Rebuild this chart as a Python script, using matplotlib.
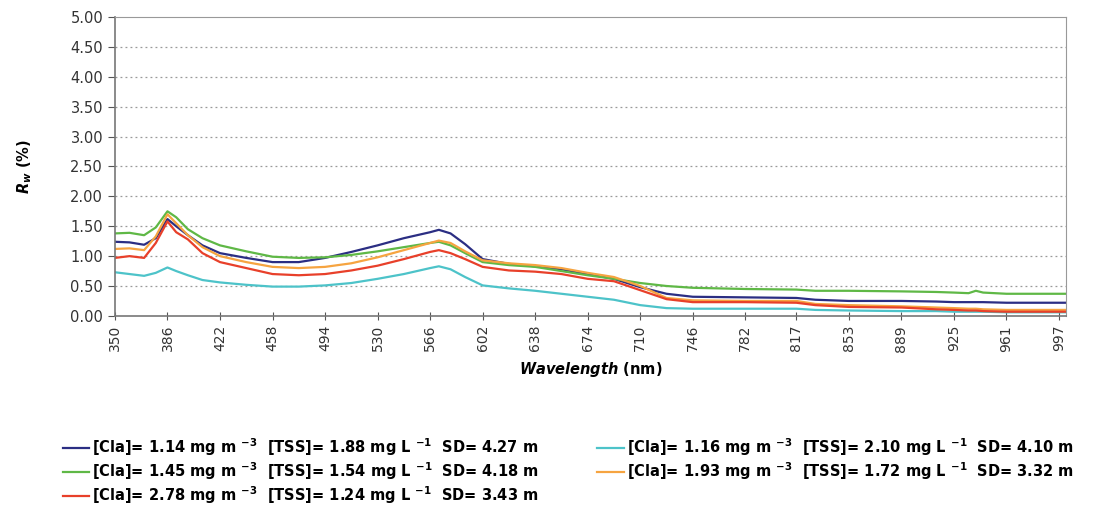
import numpy as np
import matplotlib
matplotlib.use('Agg')
import matplotlib.pyplot as plt

plt.rcParams['font.family'] = ['DejaVu Sans']
plt.rcParams['mathtext.fontset'] = 'custom'
plt.rcParams['mathtext.rm'] = 'DejaVu Sans:bold'
plt.rcParams['mathtext.it'] = 'DejaVu Sans:italic:bold'
plt.rcParams['mathtext.bf'] = 'DejaVu Sans:bold'

# wavelength nodes (nm)
wl = [350, 360, 370, 378, 386, 392, 400, 410, 422, 440, 458, 476, 494, 512,
      530, 548, 566, 572, 580, 590, 602, 620, 638, 656, 674, 692, 710, 728,
      746, 782, 817, 830, 853, 889, 913, 925, 935, 940, 945, 961, 1002]

rw_navy = [1.24, 1.23, 1.19, 1.30, 1.62, 1.50, 1.35, 1.18, 1.05, 0.97, 0.90, 0.90,
           0.97, 1.07, 1.18, 1.30, 1.40, 1.44, 1.38, 1.20, 0.95, 0.87, 0.83, 0.78,
           0.70, 0.62, 0.48, 0.37, 0.32, 0.31, 0.30, 0.27, 0.25, 0.25, 0.24, 0.23,
           0.23, 0.23, 0.23, 0.22, 0.22]
rw_green = [1.38, 1.39, 1.35, 1.48, 1.75, 1.65, 1.45, 1.30, 1.18, 1.08, 0.99, 0.97,
            0.98, 1.02, 1.08, 1.15, 1.22, 1.24, 1.18, 1.05, 0.90, 0.85, 0.82, 0.75,
            0.68, 0.62, 0.55, 0.50, 0.47, 0.45, 0.44, 0.42, 0.42, 0.41, 0.40, 0.39,
            0.38, 0.42, 0.39, 0.37, 0.37]
rw_cyan = [0.73, 0.70, 0.67, 0.72, 0.81, 0.75, 0.68, 0.60, 0.56, 0.52, 0.49, 0.49,
           0.51, 0.55, 0.62, 0.70, 0.80, 0.83, 0.78, 0.65, 0.51, 0.46, 0.42, 0.37,
           0.32, 0.27, 0.18, 0.13, 0.12, 0.12, 0.12, 0.10, 0.09, 0.08, 0.08, 0.07,
           0.07, 0.07, 0.07, 0.06, 0.06]
rw_orange = [1.12, 1.13, 1.10, 1.33, 1.70, 1.55, 1.35, 1.15, 1.00, 0.90, 0.82, 0.80,
             0.82, 0.88, 0.98, 1.10, 1.22, 1.26, 1.22, 1.08, 0.93, 0.88, 0.85, 0.80,
             0.72, 0.65, 0.50, 0.30, 0.26, 0.25, 0.25, 0.20, 0.18, 0.16, 0.14, 0.13,
             0.12, 0.12, 0.11, 0.10, 0.10]
rw_red = [0.97, 1.00, 0.97, 1.22, 1.58, 1.40, 1.28, 1.05, 0.90, 0.80, 0.70, 0.68,
          0.70, 0.76, 0.84, 0.95, 1.07, 1.10, 1.05, 0.95, 0.82, 0.76, 0.74, 0.70,
          0.62, 0.58, 0.43, 0.28, 0.23, 0.23, 0.22, 0.18, 0.15, 0.14, 0.11, 0.10,
          0.09, 0.09, 0.08, 0.07, 0.07]

labels = [
    "[Cla]= 1.14 mg m $^{-3}$  [TSS]= 1.88 mg L $^{-1}$  SD= 4.27 m",
    "[Cla]= 1.16 mg m $^{-3}$  [TSS]= 2.10 mg L $^{-1}$  SD= 4.10 m",
    "[Cla]= 1.45 mg m $^{-3}$  [TSS]= 1.54 mg L $^{-1}$  SD= 4.18 m",
    "[Cla]= 1.93 mg m $^{-3}$  [TSS]= 1.72 mg L $^{-1}$  SD= 3.32 m",
    "[Cla]= 2.78 mg m $^{-3}$  [TSS]= 1.24 mg L $^{-1}$  SD= 3.43 m",
]
xticks = [350, 386, 422, 458, 494, 530, 566, 602, 638, 674, 710, 746, 782,
          817, 853, 889, 925, 961, 997]
yticks = np.arange(0, 5.01, 0.5)

fig = plt.figure(figsize=(11.05, 5.17), dpi=100)
ax = fig.add_axes([0.104, 0.389, 0.861, 0.578])

l_navy, = ax.plot(wl, rw_navy, color='#2b2e83', lw=1.6)
l_cyan, = ax.plot(wl, rw_cyan, color='#4dc3c9', lw=1.6)
l_green, = ax.plot(wl, rw_green, color='#5fb846', lw=1.6)
l_orange, = ax.plot(wl, rw_orange, color='#f6a440', lw=1.6)
l_red, = ax.plot(wl, rw_red, color='#e8402a', lw=1.6)

ax.set_xlim(350, 1002)
ax.set_ylim(0, 5)
ax.set_xticks(xticks)
ax.set_xticklabels([str(t) for t in xticks], rotation=90, fontsize=10, color='#333333')
ax.set_yticks(yticks)
ax.set_yticklabels(['%.2f' % v for v in yticks], fontsize=10.5, color='#333333')
ax.tick_params(axis='x', direction='inout', length=6, color='#555555')
ax.tick_params(axis='y', direction='out', length=5, color='#555555')

for v in yticks[1:-1]:
    ax.axhline(v, color='#999999', lw=0.9, ls=(0, (1.5, 2.5)), zorder=0)

for s in ['top', 'right']:
    ax.spines[s].set_color('#999999')
for s in ['left', 'bottom']:
    ax.spines[s].set_color('#777777')
    ax.spines[s].set_linewidth(1.2)

ax.set_xlabel(r'$Wavelength$ (nm)', fontsize=10.5, fontweight='bold', labelpad=6)
ax.set_ylabel(r'$R_{w}$ (%)', fontsize=10.5, fontweight='bold', labelpad=26)

handles = [l_navy, l_green, l_red, l_cyan, l_orange]
order = [0, 2, 4, 1, 3]
leg = fig.legend(handles, [labels[i] for i in order], ncol=2, frameon=False,
                 loc='upper left', bbox_to_anchor=(0.045, 0.182),
                 prop={'weight': 'bold', 'size': 10.5}, handlelength=1.8,
                 handletextpad=0.2, columnspacing=4.0, labelspacing=0.18)

plt.savefig('out.png', dpi=100)
